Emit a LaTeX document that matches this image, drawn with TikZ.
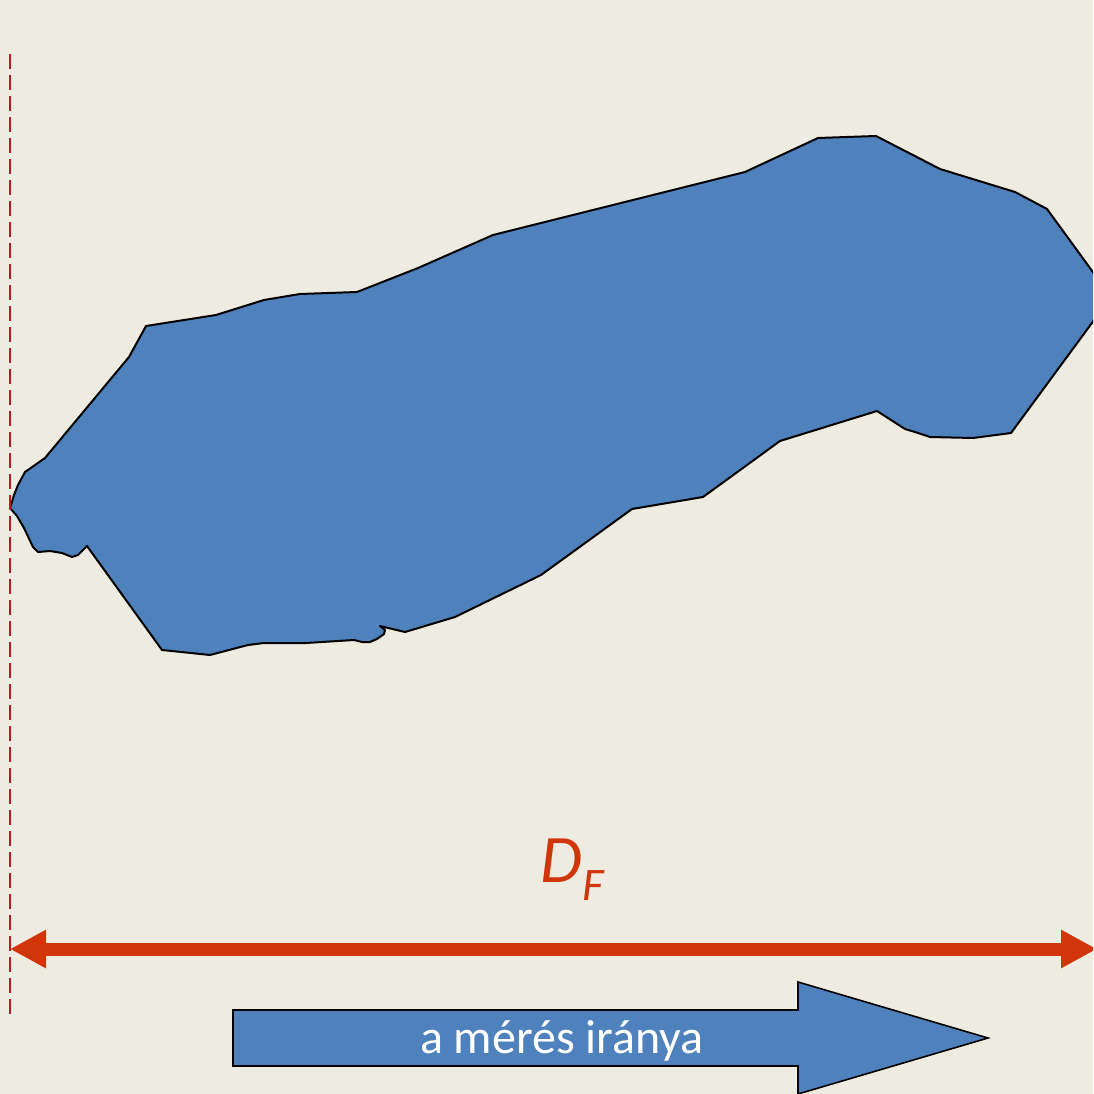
\documentclass[tikz,border=0pt]{standalone}
\usepackage{fontspec}
\setmainfont{Carlito}
\usepackage{tikz}
\usetikzlibrary{arrows.meta}
\usepackage{xcolor}
\definecolor{paper}{HTML}{EEECE1}
\definecolor{lakeblue}{HTML}{4F81BD}
\definecolor{dimred}{HTML}{D0360A}
\definecolor{guidered}{HTML}{C8141E}

\begin{document}
\begin{tikzpicture}[x=0.75pt, y=-0.75pt,
    lakeshape/.style={draw=black, fill=lakeblue, line width=1.5pt, line join=round},
    dirarrow/.style={draw=black, fill=lakeblue, line width=1.2pt},
    guideline/.style={draw=guidered, line width=1.5pt, dash pattern=on 11.25pt off 4.5pt},
    dimline/.style={draw=dimred, line width=9.75pt, {Triangle[length=27pt, width=27pt]}-{Triangle[length=27pt, width=27pt]}},
    dimlabel/.style={anchor=base west, inner sep=0pt, text=dimred, font=\fontsize{51}{51}\selectfont\itshape},
    dirlabel/.style={anchor=base, inner sep=0pt, text=white, font=\fontsize{36}{36}\selectfont}]
  \fill[paper] (0,0) rectangle (1093,1094);
  \useasboundingbox (0,0) rectangle (1093,1094);
  \clip (0,0) rectangle (1093,1094);

  % the measured particle
  \draw[lakeshape] (10,508) -- (14,495) -- (18,485) -- (25,472) -- (45,458) -- (129,357)
    -- (146,326) -- (216,315) -- (264,300) -- (300,294) -- (357,292) -- (418,268)
    -- (493,235) -- (745,172) -- (818,138) -- (876,136) -- (940,169) -- (1015,192)
    -- (1047,209) -- (1111,297) -- (1011,433) -- (973,438) -- (930,437) -- (915,432)
    -- (905,429) -- (877,411) -- (780,441) -- (703,497) -- (632,509) -- (541,575)
    -- (455,617) -- (405,632) -- (380,626) -- (385,630) -- (384,634) -- (377,639)
    -- (370,642) -- (362,642) -- (354,640) -- (306,643) -- (264,643) -- (248,645)
    -- (210,655) -- (162,650) -- (87,546) -- (78,555) -- (72,557) -- (62,553)
    -- (50,551) -- (38,552) -- (33,547) -- (24,528) -- (17,516) -- cycle;

  % tangent line
  \coordinate (gtop) at (10,54);
  \coordinate (gbot) at (10,1014);
  \draw[guideline] (gtop) -- (gbot);

  % Feret diameter
  \coordinate (dl) at (10,949);
  \coordinate (dr) at (1097,949);
  \draw[dimline] (dl) -- (dr);
  \node[dimlabel] (df) at (540,882) {D\raisebox{-13.5pt}{\fontsize{35}{35}\selectfont F}};

  % direction of measurement
  \draw[dirarrow] (233,1010) -- (798,1010) -- (798,982) -- (988,1038) -- (798,1094)
    -- (798,1066) -- (233,1066) -- cycle;
  \node[dirlabel] (dir) at (562,1053) {a mérés iránya};
\end{tikzpicture}
\end{document}
